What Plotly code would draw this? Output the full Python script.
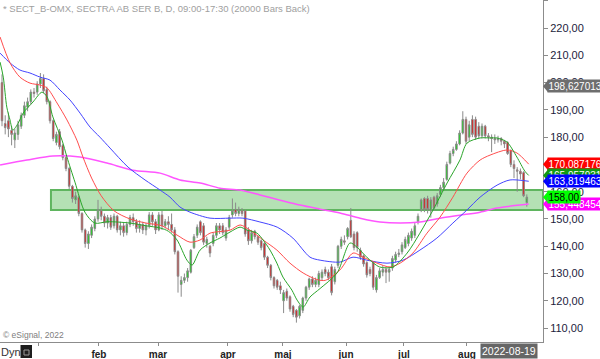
import plotly.graph_objects as go

# ---------------- data ----------------
OPEN = [200, 185, 186, 182.5, 179, 181, 184, 188, 191, 193,
        196.5, 196.5, 199.5, 201.5, 197.5, 193, 186, 178, 182, 177,
        172.5, 168.5, 162, 157, 158, 152, 146, 141, 144, 146.5,
        150, 153, 151, 148.5, 150.5, 147.5, 151, 146, 147.5, 145,
        148, 150.5, 149, 146.5, 148, 146, 147.5, 151.5, 149, 146,
        151.5, 147.5, 149, 148, 146, 138, 126, 127.5, 128.5, 130.5,
        139.5, 144, 149, 147.5, 141, 140, 141, 144, 147.5, 147.5,
        143, 147, 151.5, 153.5, 152, 153, 153, 146, 142, 145.5,
        143.5, 142, 141, 136, 133, 128.5, 127.5, 125.5, 120, 123.5,
        121.5, 118, 116.5, 114.5, 116.5, 121, 125, 128, 126, 126,
        128.5, 131.5, 130.5, 132.5, 127, 133, 140, 142, 143.5, 149.5,
        144.5, 145, 138.5, 136.5, 134, 131.5, 134, 124, 128.5, 130.5,
        131.5, 130.5, 132, 135, 137, 138, 139.5, 141, 143, 144,
        149, 153.5, 157.5, 157.5, 153, 158, 155.5, 159, 161.5, 164.5,
        170.5, 174, 175.5, 177.5, 181.5, 186.5, 180, 186.5, 186.5, 184,
        180.5, 184, 180.5, 180, 179.5, 179, 179.5, 178.5, 178, 175,
        170, 168, 167.5, 167, 156]
CLOSE = [186, 183.5, 183, 181, 181.5, 184.5, 188, 191.5, 193, 196.5,
         196, 199.5, 201.5, 197, 193, 186, 179.5, 181, 176.5, 172.5,
         168.5, 162, 157.5, 158.5, 152, 146, 141, 144.5, 147, 150,
         153.5, 151, 148.5, 150.5, 147, 151, 146, 147.5, 145, 148,
         150.5, 149, 146.5, 148, 146, 147.5, 151.5, 149, 146, 151.5,
         147.5, 149, 148, 146, 138, 129, 127.5, 128.5, 131, 138.5,
         143.5, 147, 145, 141.5, 142.5, 137.5, 144, 147.5, 146, 145,
         146, 150.5, 153, 152, 153.5, 152, 144.5, 142, 145, 143.5,
         141.5, 139.5, 136, 133, 128.5, 125.5, 125, 124, 123, 121,
         117, 115, 114, 118, 121, 125, 128, 126, 127.5, 130,
         130.5, 130, 128.5, 123, 131.5, 140, 142.5, 141.5, 146.5, 143.5,
         139.5, 139.5, 136, 133.5, 129.5, 130, 125, 128.5, 131, 131.5,
         130.5, 131.5, 135.5, 137, 137.5, 140.5, 142.5, 144, 145.5, 147.5,
         151, 157, 153.5, 153.5, 157, 154, 158.5, 161.5, 163.5, 170,
         174, 175.5, 177.5, 181.5, 186.5, 178.5, 184.5, 181, 180, 180.5,
         184, 180.5, 180, 179.5, 179, 179.5, 178.5, 177.5, 174, 170,
         168.5, 167.5, 166.5, 158.5, 158]
HIGH = [203, 188, 189, 184, 183, 186, 189, 193, 194.5, 197.5,
        198, 200.5, 203.5, 203, 198.5, 193.5, 186.5, 182, 183, 177.5,
        173, 169, 162.5, 160, 158.5, 152.5, 146.5, 145.5, 148, 151,
        157, 154.5, 152, 151.5, 151.5, 152, 151.5, 149, 148.5, 149,
        151.5, 152, 150, 149.5, 149, 148.5, 152.5, 152.5, 150, 152.5,
        153, 150, 151, 152, 147, 138.5, 129, 130, 132, 139,
        144.5, 148, 149.5, 148.5, 143.5, 140.5, 145, 148.5, 148.5, 148.5,
        147, 151.5, 157.5, 156, 154.5, 154, 153.5, 147, 146, 146,
        144, 142.5, 141.5, 136.5, 133.5, 129, 128, 127, 124, 124.5,
        122, 118.5, 117, 118.5, 121.5, 125.5, 128.5, 129, 128.5, 131,
        131.5, 132.5, 131.5, 133.5, 132.5, 140.5, 143.5, 144, 147, 154,
        145.5, 145.5, 139.5, 137, 134.5, 132.5, 134.5, 129.5, 132, 133,
        132.5, 132.5, 136.5, 138, 139, 141.5, 143.5, 145, 146.5, 148.5,
        152, 157.5, 158, 158.5, 158, 158.5, 159.5, 162.5, 165, 171,
        175, 176.5, 178.5, 182.5, 189.5, 187.5, 186, 188, 187.5, 185.5,
        185, 184.5, 181.5, 181, 181, 180.5, 180, 179, 178.5, 175.5,
        171.5, 169, 168.5, 167.5, 159]
LOW = [184, 181, 180, 177, 176, 179, 183, 187, 189.5, 192,
       194.5, 195.5, 198, 196, 192, 185, 178.5, 177, 175.5, 171.5,
       167.5, 161, 156, 155.5, 151, 145, 139.5, 139, 143, 145.5,
       149, 149.5, 147, 146.5, 146, 146.5, 145, 144, 143.5, 144,
       147, 147.5, 145, 145, 144.5, 144, 146.5, 147.5, 144.5, 145.5,
       146, 146.5, 146, 145, 137, 123, 121.5, 126.5, 127, 130,
       139, 143, 144, 140.5, 139.5, 136, 140, 143, 144.5, 144,
       142, 146, 150.5, 151, 151, 151, 143.5, 140.5, 141, 142.5,
       140.5, 138.5, 135, 132, 127.5, 124.5, 124, 122.5, 115.5, 120,
       116, 114, 112, 113.5, 115.5, 120, 124, 125, 125, 125,
       127.5, 129, 127.5, 122, 126, 132, 139, 140.5, 142.5, 143,
       138.5, 138, 135, 132.5, 128.5, 129, 124, 123, 128, 129,
       126.5, 127, 131, 134, 136, 137, 139, 140, 142, 143,
       148, 152.5, 152.5, 152, 150.5, 153, 154.5, 158, 160.5, 164,
       170, 173, 175, 177, 181, 177.5, 178.5, 180, 179, 179.5,
       179.5, 179.5, 178.5, 174.5, 177.5, 178, 177, 176, 173.5, 169,
       165, 160, 164.5, 158, 154.5]
BARS = list(range(len(CLOSE)))

# moving-average lines, sampled (bar position, value)
MA_GREEN_X = [-0.6, 0.4, 1.5, 2.5, 3.4, 5.0, 6.6, 9.7, 12.5, 14.1, 15.9, 18.75, 20.3, 22.8, 25.9, 29, 33, 40,
              45, 49.4, 52, 54.7, 57.8, 59.4, 61.9, 65, 68.1, 71.25, 74.4, 76.6, 79.7, 81.6, 83.75, 85.9,
              87.8, 90.6, 92.2, 94.1, 96.25, 99.4, 104.7, 108.75, 110.9, 114, 118, 122.2, 126.6, 130.6,
              134.7, 139.1, 143.1, 145.3, 149.4, 152.5, 154.7, 157.8, 160.9, 163.4, 164.6]
MA_GREEN_Y = [207.5, 202.0, 191.0, 186.3, 182.6, 185.0, 188.8, 192.9, 196.5, 194.7, 187.4, 178.9, 172.7, 163.5,
              152.5, 148.5, 149, 148.5, 147.5, 146.7, 145.5, 142.3, 134.9, 133.1, 138.6, 141.2, 143, 145.2,
              147, 145.9, 144.8, 142.3, 138.6, 133.8, 128.7, 123.9, 120.3, 117.7, 121.4, 124.5, 130.2, 141.2,
              139.7, 136, 132.4, 132.4, 137.5, 144.8, 153.3, 163.2, 171.6, 177.8, 179.7, 179.7, 179.7, 178.2,
              172.7, 167.5, 165.96]
MA_RED_X = [-0.6, 2.5, 5.6, 8.75, 11.9, 14.1, 17.2, 20.3, 23.4, 25.3, 28, 31, 35, 40, 45, 50, 54.7, 58.75,
            61.9, 65, 71.25, 74.4, 77.5, 81.6, 85.9, 90, 94.1, 98.4, 101, 105.6, 109.7, 112.8, 117.2, 121.25,
            124.4, 128.4, 132.8, 136.9, 140.9, 145.3, 149.4, 152.5, 157.8, 160.9, 164.6]
MA_RED_Y = [216.7, 207.2, 202.0, 199.8, 199.1, 198.0, 192.5, 186.3, 178.9, 172.7, 165, 158.5, 153, 150,
            148.5, 147.5, 144.1, 141.5, 142.3, 144.8, 145.9, 147.8, 145.9, 142.3, 138.6, 133.8, 130.2, 127.8,
            127.5, 131.3, 137.5, 136, 133.8, 132.4, 133.8, 137.5, 144.8, 150.7, 158.0, 166.8, 171.6, 173.4,
            175.3, 174.2, 170.09]
MA_BLUE_X = [-0.6, 2.5, 5.6, 8.75, 11.9, 15, 18.1, 21.25, 24.4, 27.5, 30.6, 33.75, 39.4, 44.7, 49.4, 52.5,
             55.6, 58.75, 65, 71.25, 75.3, 80.6, 86, 90.9, 96.25, 99.4, 105.6, 109.7, 114, 120.3, 125.3,
             130.6, 135.9, 140.9, 145.3, 149.4, 154.7, 158.75, 164.6]
MA_BLUE_Y = [210.8, 207.2, 204.6, 203.5, 202.0, 200.9, 197.3, 193.6, 188.8, 183.7, 180.0, 176.0, 169.0,
             164.3, 160.6, 158.0, 154.4, 152.5, 150.3, 150.3, 150.3, 148.9, 147.0, 143.0, 136.0, 134.9,
             134.2, 136.0, 134.9, 133.8, 134.9, 138.6, 143.0, 148.5, 153.3, 158.0, 162.4, 164.3, 163.82]
MA_MAG_X = [-0.6, 7.8, 15.9, 24.4, 32.8, 40.9, 49.4, 55.6, 61.9, 68.1, 74.4, 80.6, 86.9, 93.1, 99.4, 105.6,
            111.9, 118.1, 124.4, 130.6, 136.9, 143.1, 149.4, 154.7, 164.6]
MA_MAG_Y = [169.8, 171.6, 173.1, 172.7, 170.5, 167.9, 166.8, 164.3, 163.2, 161.3, 160.6, 158.8, 156.9, 155.1,
            153.6, 152.2, 150.3, 148.9, 148.5, 148.9, 150.3, 151.4, 152.5, 154.0, 155.45]

ZONE_LOW, ZONE_HIGH, ZONE_START = 153.3, 160.6, 15.3

MONTH_POS = [11.25, 30.3, 48.75, 70.6, 87.8, 107.5, 125.6, 145.3]
MONTH_TXT = ["", "feb", "mar", "apr", "maj", "jun", "jul", "aug"]

TAG_VALUES = [198.627013, 170.087176, 165.957931, 163.819463, 155.448454, 158.00]
TAG_TEXT = ["198,627013", "170,087176", "165,957931", "163,819463", "155,448454", "158,00"]
TAG_BG = ["#6e6e6e", "#ff0000", "#139a13", "#0000ff", "#ff00ff", "#00ff00"]
TAG_FG = ["white", "white", "white", "white", "white", "black"]

TITLE = "* SECT_B-OMX, SECTRA AB SER B, D, 09:00-17:30 (20000 Bars Back)"
LAST_DATE = "2022-08-19"

# ---------------- figure ----------------
XR = [-0.625, 169.06]
YR = [104.9, 230.27]
FONT = "Liberation Sans, Arial, sans-serif"

fig = go.Figure()
fig.add_trace(go.Candlestick(
    x=BARS, open=OPEN, high=HIGH, low=LOW, close=CLOSE,
    increasing=dict(fillcolor="#00e600", line=dict(color="#8a8a8a", width=1)),
    decreasing=dict(fillcolor="#f00000", line=dict(color="#8a8a8a", width=1)),
    whiskerwidth=0, hoverinfo="skip"))

for xs, ys, col, w in [(MA_MAG_X, MA_MAG_Y, "#ff55ff", 1.5),
                       (MA_BLUE_X, MA_BLUE_Y, "#4444ff", 1),
                       (MA_RED_X, MA_RED_Y, "#ff4d4d", 1),
                       (MA_GREEN_X, MA_GREEN_Y, "#2aa52a", 1)]:
    fig.add_trace(go.Scatter(x=xs, y=ys, mode="lines",
                             line=dict(color=col, width=w, shape="spline", smoothing=0.8),
                             hoverinfo="skip"))

shapes = [dict(type="rect", xref="x", yref="y", x0=ZONE_START, x1=XR[1], y0=ZONE_LOW, y1=ZONE_HIGH,
               fillcolor="#b4e1b4", line=dict(color="#5fb55f", width=2), layer="below")]

annotations = []
PW = 543.0
for v, t, bg, fg in zip(TAG_VALUES, TAG_TEXT, TAG_BG, TAG_FG):
    py = (v - YR[0]) / (YR[1] - YR[0])
    dy = 6.0 / 342
    shapes.append(dict(type="path", xref="paper", yref="paper",
                       path=f"M 1.0 {py} L {1 + 5 / PW} {py + dy} L {1 + 5 / PW} {py - dy} Z",
                       fillcolor=bg, line=dict(width=0)))
    annotations.append(dict(xref="paper", yref="y", x=1, y=v, xanchor="left", yanchor="middle",
                            xshift=4, text=t, showarrow=False, bgcolor=bg, borderpad=0.5,
                            font=dict(family=FONT, size=10, color=fg)))

annotations.append(dict(xref="paper", yref="paper", x=0, y=1, xanchor="left", yanchor="top",
                        xshift=1, yshift=-1, text=TITLE, showarrow=False,
                        font=dict(family=FONT, size=9.5, color="#a0a0a0")))
annotations.append(dict(xref="paper", yref="paper", x=0, y=(342 - 335) / 342, xanchor="left",
                        yanchor="middle", xshift=1, text="© eSignal, 2022", showarrow=False,
                        font=dict(family=FONT, size=8.5, color="#808080")))
annotations.append(dict(xref="paper", yref="paper", x=0, y=(342 - 352) / 342, xanchor="left",
                        yanchor="middle", xshift=-1, text="Dyn", showarrow=False,
                        font=dict(family=FONT, size=11, color="#333333")))
annotations.append(dict(xref="paper", yref="paper", x=509 / PW, y=(342 - 351.5) / 342, xanchor="center",
                        yanchor="middle", text=LAST_DATE, showarrow=False, bgcolor="#666666",
                        borderpad=1, font=dict(family=FONT, size=10.5, color="white")))
shapes.append(dict(type="rect", xref="paper", yref="paper", x0=20.5 / PW, x1=32 / PW,
                   y0=(342 - 358) / 342, y1=(342 - 345) / 342, fillcolor="#1e1e1e", line=dict(width=0)))
shapes.append(dict(type="rect", xref="paper", yref="paper", x0=24 / PW, x1=29 / PW,
                   y0=(342 - 355) / 342, y1=(342 - 350) / 342, fillcolor="#1e1e1e",
                   line=dict(color="#9a9a9a", width=1)))

fig.update_layout(
    width=600, height=359, margin=dict(l=0, r=57, t=0, b=17),
    paper_bgcolor="white", plot_bgcolor="white", showlegend=False, separators=",.",
    shapes=shapes, annotations=annotations,
    xaxis=dict(range=XR, showgrid=False, zeroline=False, showline=True, linecolor="#8c8c8c",
               linewidth=1, ticks="outside", ticklen=3, tickcolor="#8c8c8c",
               tickvals=MONTH_POS, ticktext=[f"<b>{m}</b>" if m else "" for m in MONTH_TXT],
               tickfont=dict(family=FONT, size=10, color="#222222"),
               rangeslider=dict(visible=False), fixedrange=True),
    yaxis=dict(range=YR, side="right", dtick=10, tick0=0, tickformat=".2f", showgrid=False,
               zeroline=False, showline=True, linecolor="#8c8c8c", linewidth=1, ticks="outside",
               ticklen=4, tickcolor="#8c8c8c", tickfont=dict(family=FONT, size=11, color="#1c1c3c"),
               fixedrange=True),
)

fig.write_html("out.html", config={"displayModeBar": False},
               post_script="document.body.style.margin='0';document.body.style.overflow='hidden';")
